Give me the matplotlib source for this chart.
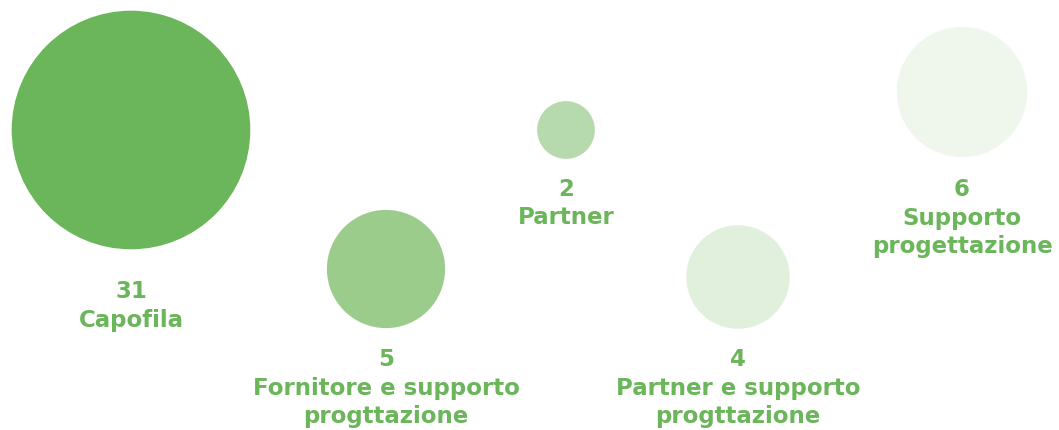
import numpy as np
import matplotlib
matplotlib.use("Agg")
import matplotlib.pyplot as plt

# data
labels = ["Capofila", "Fornitore e supporto\nprogttazione", "Partner",
          "Partner e supporto\nprogttazione", "Supporto\nprogettazione"]
values = [31, 5, 2, 4, 6]
colors = ["#6bb55a", "#9bcc8c", "#b7d9ae", "#e1f0dc", "#eff6ec"]

# layout (pixel units of the 1059x430 canvas)
x_pos = [131, 386, 566, 738, 962]
y_pos = [130, 269, 130, 277, 92]
label_base = [298, 366, 196, 366, 196]

text_color = "#6bb55a"
line_step = 28.5

fig = plt.figure(figsize=(10.59, 4.30), dpi=100)
ax = fig.add_axes([0, 0, 1, 1])
ax.set_xlim(0, 1059)
ax.set_ylim(430, 0)
ax.axis("off")

# bubble radius grows with log of the value
radius_px = 6 + 33 * np.log(np.array(values, dtype=float))
sizes = (2 * radius_px * 72 / fig.dpi) ** 2

ax.scatter(x_pos, y_pos, s=sizes, c=colors, edgecolors="none", zorder=2)

for x, yb, v, lab in zip(x_pos, label_base, values, labels):
    lines = [str(v)] + lab.split("\n")
    for i, line in enumerate(lines):
        ax.text(x, yb + i * line_step, line, ha="center", va="baseline",
                fontsize=16.5, fontweight="bold", color=text_color,
                family="DejaVu Sans")

fig.savefig("out.png", dpi=100)
